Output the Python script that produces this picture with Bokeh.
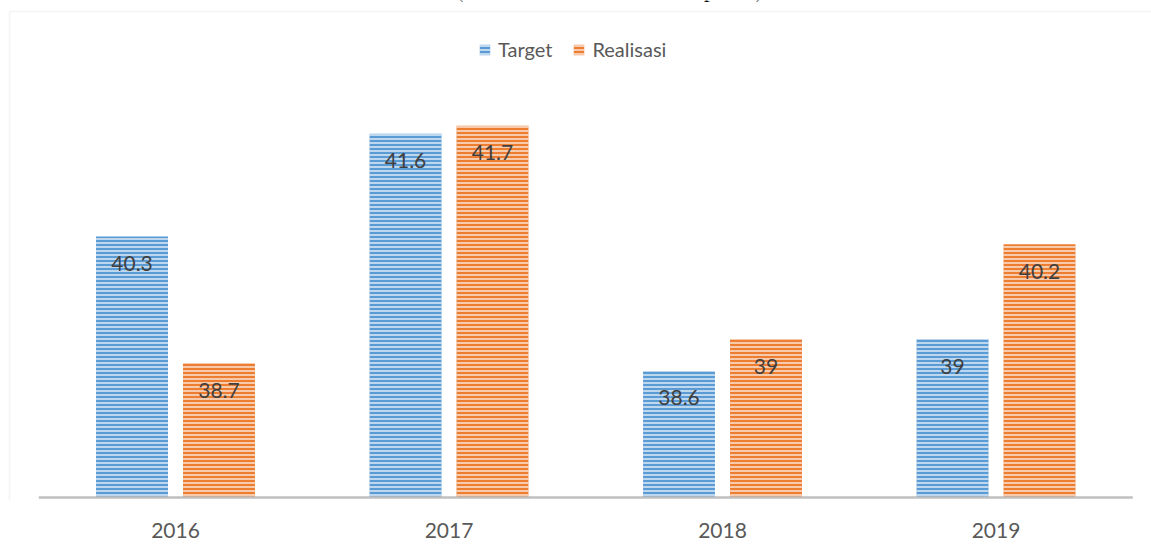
import numpy as np
from bokeh.plotting import figure
from bokeh.models import (Range1d, ColumnDataSource, LabelSet, Legend, LegendItem, Label,
                          FixedTicker, BoxAnnotation)
from bokeh.core.properties import value
from bokeh.embed import file_html
from bokeh.resources import INLINE

years = ["2016", "2017", "2018", "2019"]
target = [40.3, 41.6, 38.6, 39.0]
realisasi = [38.7, 41.7, 39.0, 40.2]
target_labels = ["40.3", "41.6", "38.6", "39"]
realisasi_labels = ["38.7", "41.7", "39", "40.2"]
series_names = ["Target", "Realisasi"]
title_text = "(Realisasi dan Sasaran Capaian)"

FONT = "Lato"
BLUE = "#5B9BD5"
ORANGE = "#ED7D31"
BASE = 37

xc = np.arange(len(years)) + 0.5
off = 0.159
w = 0.263

src = ColumnDataSource(dict(xt=xc - off, xr=xc + off, target=target, realisasi=realisasi,
                            tl=target_labels, rl=realisasi_labels))

p = figure(width=1151, height=552, x_range=Range1d(-0.1399, 4.0685),
           y_range=Range1d(36.962, 43.283), output_backend="svg", toolbar_location=None,
           min_border_top=0, min_border_bottom=52, min_border_left=0, min_border_right=0)
p.outline_line_color = None
p.xgrid.visible = False
p.ygrid.visible = False
p.yaxis.visible = False
p.background_fill_color = "white"
p.border_fill_color = "white"

# chart-area border (top and left edges visible in the window)
p.add_layout(BoxAnnotation(left=9, right=1300, top=11, bottom=700,
                           left_units="canvas", right_units="canvas",
                           top_units="canvas", bottom_units="canvas",
                           fill_alpha=0, line_color="#D9D9D9", line_width=1.5,
                           level="underlay"))

common = dict(hatch_pattern="horizontal_line", hatch_scale=4, hatch_weight=1.6,
              hatch_color="white", hatch_alpha=0.75, line_color=None)
r1 = p.vbar(x="xt", top="target", bottom=BASE, width=w, source=src, fill_color=BLUE, **common)
r2 = p.vbar(x="xr", top="realisasi", bottom=BASE, width=w, source=src, fill_color=ORANGE, **common)

# baseline (category axis line) spanning the category band
p.segment(x0=[0], x1=[len(years)], y0=[BASE], y1=[BASE], line_color="#BFBFBF", line_width=2.5)

lab_common = dict(y_offset=-27, text_align="center", text_baseline="middle",
                  text_font=value(FONT), text_font_size="21px", text_color="#404040", source=src)
p.add_layout(LabelSet(x="xt", y="target", text="tl", **lab_common))
p.add_layout(LabelSet(x="xr", y="realisasi", text="rl", **lab_common))

ax = p.xaxis[0]
ax.ticker = FixedTicker(ticks=list(xc))
ax.major_label_overrides = {float(x): y for x, y in zip(xc, years)}
ax.axis_line_color = None
ax.major_tick_line_color = None
ax.minor_tick_line_color = None
ax.major_tick_out = 0
ax.major_tick_in = 0
ax.major_label_text_font = FONT
ax.major_label_text_font_size = "21px"
ax.major_label_text_color = "#595959"
ax.major_label_standoff = 22

legend = Legend(items=[LegendItem(label=series_names[0], renderers=[r1]),
                       LegendItem(label=series_names[1], renderers=[r2])],
                location=(478, 439), orientation="horizontal", border_line_color=None,
                background_fill_alpha=0, padding=0, margin=0, spacing=20,
                glyph_width=13, glyph_height=13, label_standoff=7,
                label_text_font=FONT, label_text_font_size="20px",
                label_text_color="#595959")
p.add_layout(legend, "center")

p.add_layout(Label(x=609, y=512, x_units="screen", y_units="screen", text=title_text,
                   text_align="center", text_baseline="alphabetic",
                   text_font="Liberation Serif", text_font_size="24px", text_color="black"))

open("out.html", "w").write(file_html(p, INLINE))
